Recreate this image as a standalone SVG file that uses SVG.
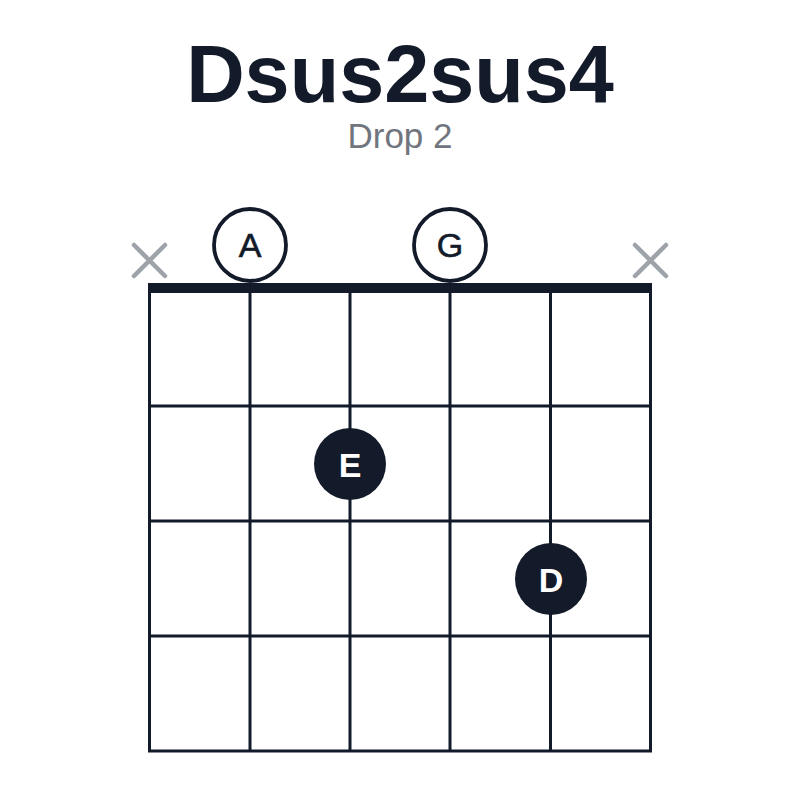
<svg xmlns="http://www.w3.org/2000/svg" width="800" height="800" viewBox="0 0 800 800">
<style>
.t{font-family:"Liberation Sans",Arial,sans-serif;text-anchor:middle}
.line{stroke:#131a2a;stroke-width:3;fill:none}
.x{stroke:#9ea3aa;stroke-width:4.5;stroke-linecap:round}
.open{fill:#fff;stroke:#131a2a;stroke-width:3.8}
.fing{fill:#131a2a}
</style>
<rect width="800" height="800" fill="#fff"/>
<text class="t" x="400" y="102" font-size="81" font-weight="bold" fill="#131a2a">Dsus2sus4</text>
<text class="t" x="400" y="148" font-size="35" fill="#71757e">Drop 2</text>
<g id="grid">
<g class="line">
<line x1="149.5" y1="288" x2="149.5" y2="751"/>
<line x1="250" y1="288" x2="250" y2="751"/>
<line x1="350" y1="288" x2="350" y2="751"/>
<line x1="450" y1="288" x2="450" y2="751"/>
<line x1="550.5" y1="288" x2="550.5" y2="751"/>
<line x1="650.5" y1="288" x2="650.5" y2="751"/>
<line x1="148" y1="406" x2="652" y2="406"/>
<line x1="148" y1="521" x2="652" y2="521"/>
<line x1="148" y1="636" x2="652" y2="636"/>
<line x1="148" y1="751" x2="652" y2="751"/>
</g>
<rect id="nut" x="148" y="283" width="504" height="10" fill="#131a2a"/>
</g>
<g id="mute-1"><path class="x" d="M134 245L165 276M165 245L134 276"/></g>
<g id="mute-6"><path class="x" d="M635 245L666 276M666 245L635 276"/></g>
<g id="open-A"><circle class="open" cx="250" cy="245" r="36"/><text class="t" x="250" y="257" font-size="34" fill="#131a2a" stroke="#131a2a" stroke-width="0.6">A</text></g>
<g id="open-G"><circle class="open" cx="450" cy="245" r="36"/><text class="t" x="450" y="257" font-size="34" fill="#131a2a" stroke="#131a2a" stroke-width="0.6">G</text></g>
<g id="finger-E"><circle class="fing" cx="350" cy="464" r="36"/><text class="t" x="350" y="477" font-size="34" font-weight="bold" fill="#fff">E</text></g>
<g id="finger-D"><circle class="fing" cx="551" cy="579" r="36"/><text class="t" x="551" y="592" font-size="34" font-weight="bold" fill="#fff">D</text></g>
</svg>
